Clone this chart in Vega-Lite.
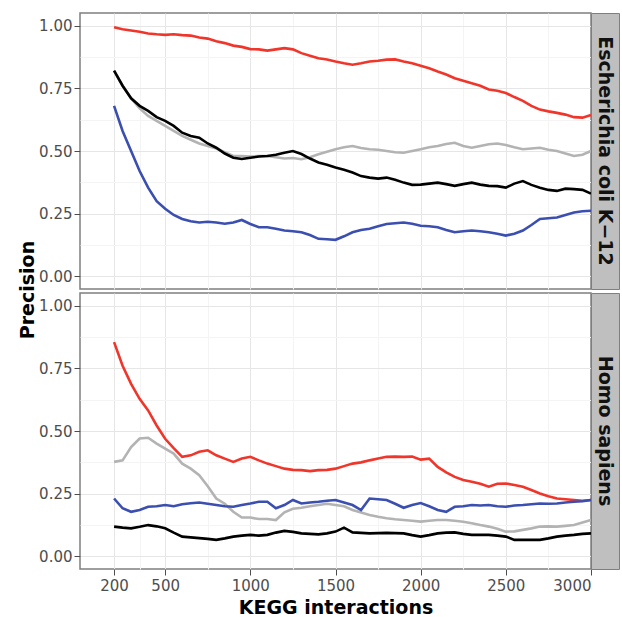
{
"$schema":"https://vega.github.io/schema/vega-lite/v6.json",
"padding":{"left":18,"top":12,"right":1,"bottom":0},
"background":"white",
"spacing":2,
"title":{"text":"Precision","orient":"left","anchor":"middle","font":"DejaVu Sans","fontSize":19,"fontWeight":"bold","color":"#000000","offset":0,"dx":25},
"config":{
 "font":"DejaVu Sans",
 "view":{"stroke":"#7f7f7f","strokeWidth":1.5},
 "axis":{"labelFont":"DejaVu Sans","labelFontSize":15,"labelColor":"#4d4d4d","tickColor":"#4d4d4d","tickSize":6,"labelPadding":2,"domain":false,"gridWidth":1,"titleFont":"DejaVu Sans","titleFontSize":19,"titleFontWeight":"bold","titleColor":"#000000"}
},
"datasets":{"d":[
{"species":"E","method":"R","x":200,"y":0.993},{"species":"E","method":"R","x":250,"y":0.985},{"species":"E","method":"R","x":300,"y":0.98},{"species":"E","method":"R","x":350,"y":0.975},{"species":"E","method":"R","x":400,"y":0.968},{"species":"E","method":"R","x":450,"y":0.965},{"species":"E","method":"R","x":500,"y":0.963},{"species":"E","method":"R","x":550,"y":0.965},{"species":"E","method":"R","x":600,"y":0.962},{"species":"E","method":"R","x":650,"y":0.96},{"species":"E","method":"R","x":700,"y":0.952},{"species":"E","method":"R","x":750,"y":0.948},{"species":"E","method":"R","x":800,"y":0.937},{"species":"E","method":"R","x":850,"y":0.93},{"species":"E","method":"R","x":900,"y":0.92},{"species":"E","method":"R","x":950,"y":0.915},{"species":"E","method":"R","x":1000,"y":0.906},{"species":"E","method":"R","x":1050,"y":0.905},{"species":"E","method":"R","x":1100,"y":0.9},{"species":"E","method":"R","x":1150,"y":0.905},{"species":"E","method":"R","x":1200,"y":0.91},{"species":"E","method":"R","x":1250,"y":0.905},{"species":"E","method":"R","x":1300,"y":0.89},{"species":"E","method":"R","x":1350,"y":0.88},{"species":"E","method":"R","x":1400,"y":0.87},{"species":"E","method":"R","x":1450,"y":0.865},{"species":"E","method":"R","x":1500,"y":0.857},{"species":"E","method":"R","x":1550,"y":0.85},{"species":"E","method":"R","x":1600,"y":0.844},{"species":"E","method":"R","x":1650,"y":0.85},{"species":"E","method":"R","x":1700,"y":0.857},{"species":"E","method":"R","x":1750,"y":0.86},{"species":"E","method":"R","x":1800,"y":0.864},{"species":"E","method":"R","x":1850,"y":0.865},{"species":"E","method":"R","x":1900,"y":0.857},{"species":"E","method":"R","x":1950,"y":0.85},{"species":"E","method":"R","x":2000,"y":0.84},{"species":"E","method":"R","x":2050,"y":0.83},{"species":"E","method":"R","x":2100,"y":0.817},{"species":"E","method":"R","x":2150,"y":0.805},{"species":"E","method":"R","x":2200,"y":0.79},{"species":"E","method":"R","x":2250,"y":0.78},{"species":"E","method":"R","x":2300,"y":0.77},{"species":"E","method":"R","x":2350,"y":0.76},{"species":"E","method":"R","x":2400,"y":0.745},{"species":"E","method":"R","x":2450,"y":0.74},{"species":"E","method":"R","x":2500,"y":0.731},{"species":"E","method":"R","x":2550,"y":0.715},{"species":"E","method":"R","x":2600,"y":0.7},{"species":"E","method":"R","x":2650,"y":0.68},{"species":"E","method":"R","x":2700,"y":0.665},{"species":"E","method":"R","x":2750,"y":0.658},{"species":"E","method":"R","x":2800,"y":0.652},{"species":"E","method":"R","x":2850,"y":0.645},{"species":"E","method":"R","x":2900,"y":0.635},{"species":"E","method":"R","x":2950,"y":0.633},{"species":"E","method":"R","x":3000,"y":0.643},
{"species":"E","method":"G","x":200,"y":0.82},{"species":"E","method":"G","x":250,"y":0.76},{"species":"E","method":"G","x":300,"y":0.71},{"species":"E","method":"G","x":350,"y":0.67},{"species":"E","method":"G","x":400,"y":0.64},{"species":"E","method":"G","x":450,"y":0.62},{"species":"E","method":"G","x":500,"y":0.6},{"species":"E","method":"G","x":550,"y":0.58},{"species":"E","method":"G","x":600,"y":0.56},{"species":"E","method":"G","x":650,"y":0.545},{"species":"E","method":"G","x":700,"y":0.53},{"species":"E","method":"G","x":750,"y":0.52},{"species":"E","method":"G","x":800,"y":0.51},{"species":"E","method":"G","x":850,"y":0.495},{"species":"E","method":"G","x":900,"y":0.48},{"species":"E","method":"G","x":950,"y":0.48},{"species":"E","method":"G","x":1000,"y":0.478},{"species":"E","method":"G","x":1050,"y":0.48},{"species":"E","method":"G","x":1100,"y":0.48},{"species":"E","method":"G","x":1150,"y":0.475},{"species":"E","method":"G","x":1200,"y":0.47},{"species":"E","method":"G","x":1250,"y":0.472},{"species":"E","method":"G","x":1300,"y":0.467},{"species":"E","method":"G","x":1350,"y":0.475},{"species":"E","method":"G","x":1400,"y":0.487},{"species":"E","method":"G","x":1450,"y":0.497},{"species":"E","method":"G","x":1500,"y":0.507},{"species":"E","method":"G","x":1550,"y":0.515},{"species":"E","method":"G","x":1600,"y":0.52},{"species":"E","method":"G","x":1650,"y":0.512},{"species":"E","method":"G","x":1700,"y":0.507},{"species":"E","method":"G","x":1750,"y":0.505},{"species":"E","method":"G","x":1800,"y":0.5},{"species":"E","method":"G","x":1850,"y":0.495},{"species":"E","method":"G","x":1900,"y":0.493},{"species":"E","method":"G","x":1950,"y":0.5},{"species":"E","method":"G","x":2000,"y":0.507},{"species":"E","method":"G","x":2050,"y":0.515},{"species":"E","method":"G","x":2100,"y":0.52},{"species":"E","method":"G","x":2150,"y":0.528},{"species":"E","method":"G","x":2200,"y":0.533},{"species":"E","method":"G","x":2250,"y":0.52},{"species":"E","method":"G","x":2300,"y":0.513},{"species":"E","method":"G","x":2350,"y":0.52},{"species":"E","method":"G","x":2400,"y":0.527},{"species":"E","method":"G","x":2450,"y":0.53},{"species":"E","method":"G","x":2500,"y":0.524},{"species":"E","method":"G","x":2550,"y":0.515},{"species":"E","method":"G","x":2600,"y":0.507},{"species":"E","method":"G","x":2650,"y":0.51},{"species":"E","method":"G","x":2700,"y":0.513},{"species":"E","method":"G","x":2750,"y":0.505},{"species":"E","method":"G","x":2800,"y":0.5},{"species":"E","method":"G","x":2850,"y":0.49},{"species":"E","method":"G","x":2900,"y":0.48},{"species":"E","method":"G","x":2950,"y":0.485},{"species":"E","method":"G","x":3000,"y":0.5},
{"species":"E","method":"K","x":200,"y":0.82},{"species":"E","method":"K","x":250,"y":0.76},{"species":"E","method":"K","x":300,"y":0.71},{"species":"E","method":"K","x":350,"y":0.68},{"species":"E","method":"K","x":400,"y":0.66},{"species":"E","method":"K","x":450,"y":0.635},{"species":"E","method":"K","x":500,"y":0.62},{"species":"E","method":"K","x":550,"y":0.6},{"species":"E","method":"K","x":600,"y":0.573},{"species":"E","method":"K","x":650,"y":0.56},{"species":"E","method":"K","x":700,"y":0.553},{"species":"E","method":"K","x":750,"y":0.53},{"species":"E","method":"K","x":800,"y":0.513},{"species":"E","method":"K","x":850,"y":0.49},{"species":"E","method":"K","x":900,"y":0.473},{"species":"E","method":"K","x":950,"y":0.468},{"species":"E","method":"K","x":1000,"y":0.473},{"species":"E","method":"K","x":1050,"y":0.478},{"species":"E","method":"K","x":1100,"y":0.48},{"species":"E","method":"K","x":1150,"y":0.485},{"species":"E","method":"K","x":1200,"y":0.493},{"species":"E","method":"K","x":1250,"y":0.5},{"species":"E","method":"K","x":1300,"y":0.488},{"species":"E","method":"K","x":1350,"y":0.47},{"species":"E","method":"K","x":1400,"y":0.454},{"species":"E","method":"K","x":1450,"y":0.445},{"species":"E","method":"K","x":1500,"y":0.434},{"species":"E","method":"K","x":1550,"y":0.425},{"species":"E","method":"K","x":1600,"y":0.414},{"species":"E","method":"K","x":1650,"y":0.4},{"species":"E","method":"K","x":1700,"y":0.394},{"species":"E","method":"K","x":1750,"y":0.39},{"species":"E","method":"K","x":1800,"y":0.394},{"species":"E","method":"K","x":1850,"y":0.385},{"species":"E","method":"K","x":1900,"y":0.374},{"species":"E","method":"K","x":1950,"y":0.365},{"species":"E","method":"K","x":2000,"y":0.366},{"species":"E","method":"K","x":2050,"y":0.37},{"species":"E","method":"K","x":2100,"y":0.374},{"species":"E","method":"K","x":2150,"y":0.368},{"species":"E","method":"K","x":2200,"y":0.361},{"species":"E","method":"K","x":2250,"y":0.368},{"species":"E","method":"K","x":2300,"y":0.374},{"species":"E","method":"K","x":2350,"y":0.366},{"species":"E","method":"K","x":2400,"y":0.361},{"species":"E","method":"K","x":2450,"y":0.36},{"species":"E","method":"K","x":2500,"y":0.354},{"species":"E","method":"K","x":2550,"y":0.37},{"species":"E","method":"K","x":2600,"y":0.38},{"species":"E","method":"K","x":2650,"y":0.365},{"species":"E","method":"K","x":2700,"y":0.354},{"species":"E","method":"K","x":2750,"y":0.345},{"species":"E","method":"K","x":2800,"y":0.341},{"species":"E","method":"K","x":2850,"y":0.35},{"species":"E","method":"K","x":2900,"y":0.348},{"species":"E","method":"K","x":2950,"y":0.345},{"species":"E","method":"K","x":3000,"y":0.33},
{"species":"E","method":"B","x":200,"y":0.68},{"species":"E","method":"B","x":250,"y":0.58},{"species":"E","method":"B","x":300,"y":0.5},{"species":"E","method":"B","x":350,"y":0.42},{"species":"E","method":"B","x":400,"y":0.354},{"species":"E","method":"B","x":450,"y":0.3},{"species":"E","method":"B","x":500,"y":0.27},{"species":"E","method":"B","x":550,"y":0.245},{"species":"E","method":"B","x":600,"y":0.229},{"species":"E","method":"B","x":650,"y":0.22},{"species":"E","method":"B","x":700,"y":0.215},{"species":"E","method":"B","x":750,"y":0.218},{"species":"E","method":"B","x":800,"y":0.215},{"species":"E","method":"B","x":850,"y":0.21},{"species":"E","method":"B","x":900,"y":0.215},{"species":"E","method":"B","x":950,"y":0.225},{"species":"E","method":"B","x":1000,"y":0.209},{"species":"E","method":"B","x":1050,"y":0.196},{"species":"E","method":"B","x":1100,"y":0.196},{"species":"E","method":"B","x":1150,"y":0.19},{"species":"E","method":"B","x":1200,"y":0.183},{"species":"E","method":"B","x":1250,"y":0.18},{"species":"E","method":"B","x":1300,"y":0.176},{"species":"E","method":"B","x":1350,"y":0.165},{"species":"E","method":"B","x":1400,"y":0.15},{"species":"E","method":"B","x":1450,"y":0.148},{"species":"E","method":"B","x":1500,"y":0.146},{"species":"E","method":"B","x":1550,"y":0.16},{"species":"E","method":"B","x":1600,"y":0.176},{"species":"E","method":"B","x":1650,"y":0.185},{"species":"E","method":"B","x":1700,"y":0.19},{"species":"E","method":"B","x":1750,"y":0.2},{"species":"E","method":"B","x":1800,"y":0.209},{"species":"E","method":"B","x":1850,"y":0.212},{"species":"E","method":"B","x":1900,"y":0.215},{"species":"E","method":"B","x":1950,"y":0.21},{"species":"E","method":"B","x":2000,"y":0.202},{"species":"E","method":"B","x":2050,"y":0.2},{"species":"E","method":"B","x":2100,"y":0.196},{"species":"E","method":"B","x":2150,"y":0.185},{"species":"E","method":"B","x":2200,"y":0.176},{"species":"E","method":"B","x":2250,"y":0.18},{"species":"E","method":"B","x":2300,"y":0.183},{"species":"E","method":"B","x":2350,"y":0.18},{"species":"E","method":"B","x":2400,"y":0.176},{"species":"E","method":"B","x":2450,"y":0.17},{"species":"E","method":"B","x":2500,"y":0.163},{"species":"E","method":"B","x":2550,"y":0.17},{"species":"E","method":"B","x":2600,"y":0.183},{"species":"E","method":"B","x":2650,"y":0.205},{"species":"E","method":"B","x":2700,"y":0.229},{"species":"E","method":"B","x":2750,"y":0.232},{"species":"E","method":"B","x":2800,"y":0.235},{"species":"E","method":"B","x":2850,"y":0.245},{"species":"E","method":"B","x":2900,"y":0.255},{"species":"E","method":"B","x":2950,"y":0.26},{"species":"E","method":"B","x":3000,"y":0.262},
{"species":"H","method":"R","x":200,"y":0.854},{"species":"H","method":"R","x":250,"y":0.76},{"species":"H","method":"R","x":300,"y":0.688},{"species":"H","method":"R","x":350,"y":0.628},{"species":"H","method":"R","x":400,"y":0.582},{"species":"H","method":"R","x":450,"y":0.522},{"species":"H","method":"R","x":500,"y":0.469},{"species":"H","method":"R","x":550,"y":0.432},{"species":"H","method":"R","x":600,"y":0.397},{"species":"H","method":"R","x":650,"y":0.403},{"species":"H","method":"R","x":700,"y":0.417},{"species":"H","method":"R","x":750,"y":0.423},{"species":"H","method":"R","x":800,"y":0.403},{"species":"H","method":"R","x":850,"y":0.39},{"species":"H","method":"R","x":900,"y":0.377},{"species":"H","method":"R","x":950,"y":0.39},{"species":"H","method":"R","x":1000,"y":0.397},{"species":"H","method":"R","x":1050,"y":0.383},{"species":"H","method":"R","x":1100,"y":0.37},{"species":"H","method":"R","x":1150,"y":0.36},{"species":"H","method":"R","x":1200,"y":0.35},{"species":"H","method":"R","x":1250,"y":0.345},{"species":"H","method":"R","x":1300,"y":0.344},{"species":"H","method":"R","x":1350,"y":0.34},{"species":"H","method":"R","x":1400,"y":0.344},{"species":"H","method":"R","x":1450,"y":0.345},{"species":"H","method":"R","x":1500,"y":0.35},{"species":"H","method":"R","x":1550,"y":0.36},{"species":"H","method":"R","x":1600,"y":0.37},{"species":"H","method":"R","x":1650,"y":0.375},{"species":"H","method":"R","x":1700,"y":0.383},{"species":"H","method":"R","x":1750,"y":0.39},{"species":"H","method":"R","x":1800,"y":0.397},{"species":"H","method":"R","x":1850,"y":0.398},{"species":"H","method":"R","x":1900,"y":0.397},{"species":"H","method":"R","x":1950,"y":0.398},{"species":"H","method":"R","x":2000,"y":0.386},{"species":"H","method":"R","x":2050,"y":0.39},{"species":"H","method":"R","x":2100,"y":0.357},{"species":"H","method":"R","x":2150,"y":0.335},{"species":"H","method":"R","x":2200,"y":0.317},{"species":"H","method":"R","x":2250,"y":0.305},{"species":"H","method":"R","x":2300,"y":0.298},{"species":"H","method":"R","x":2350,"y":0.29},{"species":"H","method":"R","x":2400,"y":0.278},{"species":"H","method":"R","x":2450,"y":0.29},{"species":"H","method":"R","x":2500,"y":0.291},{"species":"H","method":"R","x":2550,"y":0.285},{"species":"H","method":"R","x":2600,"y":0.278},{"species":"H","method":"R","x":2650,"y":0.265},{"species":"H","method":"R","x":2700,"y":0.251},{"species":"H","method":"R","x":2750,"y":0.24},{"species":"H","method":"R","x":2800,"y":0.231},{"species":"H","method":"R","x":2850,"y":0.228},{"species":"H","method":"R","x":2900,"y":0.225},{"species":"H","method":"R","x":2950,"y":0.222},{"species":"H","method":"R","x":3000,"y":0.225},
{"species":"H","method":"G","x":200,"y":0.377},{"species":"H","method":"G","x":250,"y":0.383},{"species":"H","method":"G","x":300,"y":0.436},{"species":"H","method":"G","x":350,"y":0.47},{"species":"H","method":"G","x":400,"y":0.473},{"species":"H","method":"G","x":450,"y":0.45},{"species":"H","method":"G","x":500,"y":0.43},{"species":"H","method":"G","x":550,"y":0.41},{"species":"H","method":"G","x":600,"y":0.37},{"species":"H","method":"G","x":650,"y":0.35},{"species":"H","method":"G","x":700,"y":0.324},{"species":"H","method":"G","x":750,"y":0.28},{"species":"H","method":"G","x":800,"y":0.231},{"species":"H","method":"G","x":850,"y":0.21},{"species":"H","method":"G","x":900,"y":0.178},{"species":"H","method":"G","x":950,"y":0.155},{"species":"H","method":"G","x":1000,"y":0.155},{"species":"H","method":"G","x":1050,"y":0.149},{"species":"H","method":"G","x":1100,"y":0.149},{"species":"H","method":"G","x":1150,"y":0.145},{"species":"H","method":"G","x":1200,"y":0.176},{"species":"H","method":"G","x":1250,"y":0.19},{"species":"H","method":"G","x":1300,"y":0.194},{"species":"H","method":"G","x":1350,"y":0.2},{"species":"H","method":"G","x":1400,"y":0.205},{"species":"H","method":"G","x":1450,"y":0.21},{"species":"H","method":"G","x":1500,"y":0.205},{"species":"H","method":"G","x":1550,"y":0.2},{"species":"H","method":"G","x":1600,"y":0.185},{"species":"H","method":"G","x":1650,"y":0.175},{"species":"H","method":"G","x":1700,"y":0.165},{"species":"H","method":"G","x":1750,"y":0.158},{"species":"H","method":"G","x":1800,"y":0.152},{"species":"H","method":"G","x":1850,"y":0.148},{"species":"H","method":"G","x":1900,"y":0.145},{"species":"H","method":"G","x":1950,"y":0.142},{"species":"H","method":"G","x":2000,"y":0.139},{"species":"H","method":"G","x":2050,"y":0.142},{"species":"H","method":"G","x":2100,"y":0.145},{"species":"H","method":"G","x":2150,"y":0.145},{"species":"H","method":"G","x":2200,"y":0.142},{"species":"H","method":"G","x":2250,"y":0.138},{"species":"H","method":"G","x":2300,"y":0.132},{"species":"H","method":"G","x":2350,"y":0.125},{"species":"H","method":"G","x":2400,"y":0.119},{"species":"H","method":"G","x":2450,"y":0.11},{"species":"H","method":"G","x":2500,"y":0.099},{"species":"H","method":"G","x":2550,"y":0.1},{"species":"H","method":"G","x":2600,"y":0.106},{"species":"H","method":"G","x":2650,"y":0.112},{"species":"H","method":"G","x":2700,"y":0.119},{"species":"H","method":"G","x":2750,"y":0.12},{"species":"H","method":"G","x":2800,"y":0.119},{"species":"H","method":"G","x":2850,"y":0.122},{"species":"H","method":"G","x":2900,"y":0.125},{"species":"H","method":"G","x":2950,"y":0.135},{"species":"H","method":"G","x":3000,"y":0.145},
{"species":"H","method":"K","x":200,"y":0.119},{"species":"H","method":"K","x":250,"y":0.115},{"species":"H","method":"K","x":300,"y":0.112},{"species":"H","method":"K","x":350,"y":0.118},{"species":"H","method":"K","x":400,"y":0.125},{"species":"H","method":"K","x":450,"y":0.12},{"species":"H","method":"K","x":500,"y":0.112},{"species":"H","method":"K","x":550,"y":0.095},{"species":"H","method":"K","x":600,"y":0.079},{"species":"H","method":"K","x":650,"y":0.076},{"species":"H","method":"K","x":700,"y":0.073},{"species":"H","method":"K","x":750,"y":0.07},{"species":"H","method":"K","x":800,"y":0.066},{"species":"H","method":"K","x":850,"y":0.072},{"species":"H","method":"K","x":900,"y":0.079},{"species":"H","method":"K","x":950,"y":0.083},{"species":"H","method":"K","x":1000,"y":0.086},{"species":"H","method":"K","x":1050,"y":0.083},{"species":"H","method":"K","x":1100,"y":0.086},{"species":"H","method":"K","x":1150,"y":0.095},{"species":"H","method":"K","x":1200,"y":0.102},{"species":"H","method":"K","x":1250,"y":0.098},{"species":"H","method":"K","x":1300,"y":0.092},{"species":"H","method":"K","x":1350,"y":0.09},{"species":"H","method":"K","x":1400,"y":0.088},{"species":"H","method":"K","x":1450,"y":0.092},{"species":"H","method":"K","x":1500,"y":0.099},{"species":"H","method":"K","x":1550,"y":0.115},{"species":"H","method":"K","x":1600,"y":0.096},{"species":"H","method":"K","x":1650,"y":0.094},{"species":"H","method":"K","x":1700,"y":0.092},{"species":"H","method":"K","x":1750,"y":0.093},{"species":"H","method":"K","x":1800,"y":0.094},{"species":"H","method":"K","x":1850,"y":0.093},{"species":"H","method":"K","x":1900,"y":0.092},{"species":"H","method":"K","x":1950,"y":0.085},{"species":"H","method":"K","x":2000,"y":0.079},{"species":"H","method":"K","x":2050,"y":0.085},{"species":"H","method":"K","x":2100,"y":0.092},{"species":"H","method":"K","x":2150,"y":0.095},{"species":"H","method":"K","x":2200,"y":0.096},{"species":"H","method":"K","x":2250,"y":0.09},{"species":"H","method":"K","x":2300,"y":0.086},{"species":"H","method":"K","x":2350,"y":0.086},{"species":"H","method":"K","x":2400,"y":0.086},{"species":"H","method":"K","x":2450,"y":0.083},{"species":"H","method":"K","x":2500,"y":0.079},{"species":"H","method":"K","x":2550,"y":0.066},{"species":"H","method":"K","x":2600,"y":0.066},{"species":"H","method":"K","x":2650,"y":0.066},{"species":"H","method":"K","x":2700,"y":0.066},{"species":"H","method":"K","x":2750,"y":0.072},{"species":"H","method":"K","x":2800,"y":0.079},{"species":"H","method":"K","x":2850,"y":0.083},{"species":"H","method":"K","x":2900,"y":0.086},{"species":"H","method":"K","x":2950,"y":0.09},{"species":"H","method":"K","x":3000,"y":0.092},
{"species":"H","method":"B","x":200,"y":0.231},{"species":"H","method":"B","x":250,"y":0.192},{"species":"H","method":"B","x":300,"y":0.178},{"species":"H","method":"B","x":350,"y":0.185},{"species":"H","method":"B","x":400,"y":0.198},{"species":"H","method":"B","x":450,"y":0.2},{"species":"H","method":"B","x":500,"y":0.205},{"species":"H","method":"B","x":550,"y":0.2},{"species":"H","method":"B","x":600,"y":0.208},{"species":"H","method":"B","x":650,"y":0.212},{"species":"H","method":"B","x":700,"y":0.215},{"species":"H","method":"B","x":750,"y":0.21},{"species":"H","method":"B","x":800,"y":0.205},{"species":"H","method":"B","x":850,"y":0.2},{"species":"H","method":"B","x":900,"y":0.198},{"species":"H","method":"B","x":950,"y":0.205},{"species":"H","method":"B","x":1000,"y":0.211},{"species":"H","method":"B","x":1050,"y":0.218},{"species":"H","method":"B","x":1100,"y":0.218},{"species":"H","method":"B","x":1150,"y":0.192},{"species":"H","method":"B","x":1200,"y":0.205},{"species":"H","method":"B","x":1250,"y":0.225},{"species":"H","method":"B","x":1300,"y":0.211},{"species":"H","method":"B","x":1350,"y":0.215},{"species":"H","method":"B","x":1400,"y":0.218},{"species":"H","method":"B","x":1450,"y":0.222},{"species":"H","method":"B","x":1500,"y":0.225},{"species":"H","method":"B","x":1550,"y":0.215},{"species":"H","method":"B","x":1600,"y":0.205},{"species":"H","method":"B","x":1650,"y":0.185},{"species":"H","method":"B","x":1700,"y":0.231},{"species":"H","method":"B","x":1750,"y":0.228},{"species":"H","method":"B","x":1800,"y":0.225},{"species":"H","method":"B","x":1850,"y":0.21},{"species":"H","method":"B","x":1900,"y":0.194},{"species":"H","method":"B","x":1950,"y":0.205},{"species":"H","method":"B","x":2000,"y":0.213},{"species":"H","method":"B","x":2050,"y":0.2},{"species":"H","method":"B","x":2100,"y":0.185},{"species":"H","method":"B","x":2150,"y":0.178},{"species":"H","method":"B","x":2200,"y":0.198},{"species":"H","method":"B","x":2250,"y":0.2},{"species":"H","method":"B","x":2300,"y":0.205},{"species":"H","method":"B","x":2350,"y":0.203},{"species":"H","method":"B","x":2400,"y":0.205},{"species":"H","method":"B","x":2450,"y":0.2},{"species":"H","method":"B","x":2500,"y":0.198},{"species":"H","method":"B","x":2550,"y":0.203},{"species":"H","method":"B","x":2600,"y":0.205},{"species":"H","method":"B","x":2650,"y":0.208},{"species":"H","method":"B","x":2700,"y":0.211},{"species":"H","method":"B","x":2750,"y":0.21},{"species":"H","method":"B","x":2800,"y":0.211},{"species":"H","method":"B","x":2850,"y":0.215},{"species":"H","method":"B","x":2900,"y":0.218},{"species":"H","method":"B","x":2950,"y":0.22},{"species":"H","method":"B","x":3000,"y":0.225}
]},
"vconcat":[
{"hconcat":[
 {"width":511,"height":276,
  "data":{"name":"d"},
  "transform":[{"filter":"datum.species === 'E'"}],
  "mark":{"type":"line","strokeWidth":2.6},
  "encoding":{
   "x":{"field":"x","type":"quantitative","scale":{"domain":[0,3000],"nice":false,"zero":false},
        "axis":{"values":[200,350,500,750,1000,1250,1500,1750,2000,2250,2500,2750,3000],"labels":false,"ticks":false,"title":null,
                "gridColor":{"condition":{"test":"datum.value === 200 || datum.value % 500 === 0","value":"#e6e6e6"},"value":"#f4f4f4"}}},
   "y":{"field":"y","type":"quantitative","scale":{"domain":[-0.05,1.05],"nice":false,"zero":false},
        "axis":{"values":[0,0.125,0.25,0.375,0.5,0.625,0.75,0.875,1],"labelExpr":"(datum.value*8) % 2 === 0 ? format(datum.value, '.2f') : ''",
                "tickOpacity":{"condition":{"test":"(datum.value*8) % 2 === 1","value":0},"value":1},
                "gridColor":{"condition":{"test":"(datum.value*8) % 2 === 1","value":"#f4f4f4"},"value":"#e6e6e6"},
                "title":null}},
   "color":{"field":"method","type":"nominal","scale":{"domain":["R","G","K","B"],"range":["#f0352a","#b3b3b3","#000000","#3a4fb0"]},"legend":null}
  }},
 {"width":28,"height":276,
  "view":{"fill":"#bfbfbf","stroke":"#7f7f7f","strokeWidth":1},
  "data":{"values":[{"label":"Escherichia coli K−12"}]},
  "mark":{"type":"text","angle":90,"font":"DejaVu Sans","fontSize":19,"fontWeight":"bold","color":"#111111","align":"center","baseline":"middle"},
  "encoding":{"text":{"field":"label","type":"nominal"}}}
 ],"spacing":0,"bounds":"flush"},
{"hconcat":[
 {"width":511,"height":276,
  "data":{"name":"d"},
  "transform":[{"filter":"datum.species === 'H'"}],
  "mark":{"type":"line","strokeWidth":2.6},
  "encoding":{
   "x":{"field":"x","type":"quantitative","scale":{"domain":[0,3000],"nice":false,"zero":false},
        "axis":{"values":[200,350,500,750,1000,1250,1500,1750,2000,2250,2500,2750,3000],"format":"d",
                "labelExpr":"datum.value === 200 || datum.value % 500 === 0 ? datum.label : ''",
                "tickOpacity":{"condition":{"test":"datum.value === 200 || datum.value % 500 === 0","value":1},"value":0},
                "gridColor":{"condition":{"test":"datum.value === 200 || datum.value % 500 === 0","value":"#e6e6e6"},"value":"#f4f4f4"},
                "labelPadding":3,"title":"KEGG interactions","titlePadding":5}},
   "y":{"field":"y","type":"quantitative","scale":{"domain":[-0.05,1.05],"nice":false,"zero":false},
        "axis":{"values":[0,0.125,0.25,0.375,0.5,0.625,0.75,0.875,1],"labelExpr":"(datum.value*8) % 2 === 0 ? format(datum.value, '.2f') : ''",
                "tickOpacity":{"condition":{"test":"(datum.value*8) % 2 === 1","value":0},"value":1},
                "gridColor":{"condition":{"test":"(datum.value*8) % 2 === 1","value":"#f4f4f4"},"value":"#e6e6e6"},
                "title":null}},
   "color":{"field":"method","type":"nominal","scale":{"domain":["R","G","K","B"],"range":["#f0352a","#b3b3b3","#000000","#3a4fb0"]},"legend":null}
  }},
 {"width":28,"height":276,
  "view":{"fill":"#bfbfbf","stroke":"#7f7f7f","strokeWidth":1},
  "data":{"values":[{"label":"Homo sapiens"}]},
  "mark":{"type":"text","angle":90,"font":"DejaVu Sans","fontSize":19,"fontWeight":"bold","color":"#111111","align":"center","baseline":"middle"},
  "encoding":{"text":{"field":"label","type":"nominal"}}}
 ],"spacing":0,"bounds":"flush"}
]
}
